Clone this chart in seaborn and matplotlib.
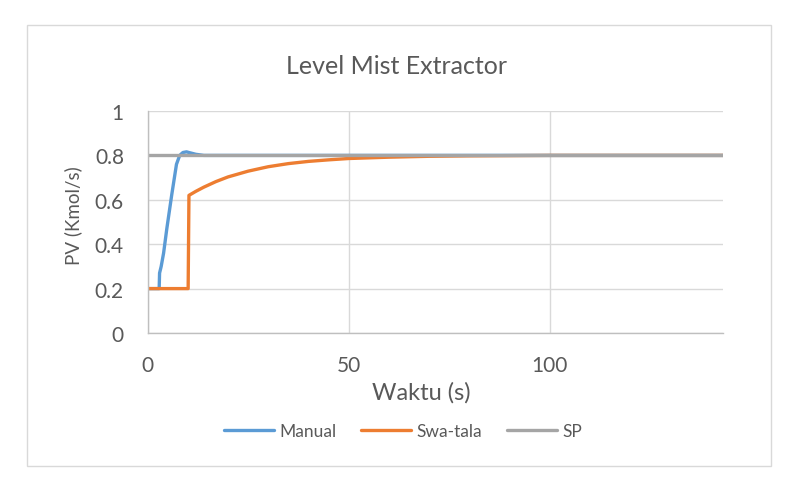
import matplotlib
matplotlib.use("Agg")
import matplotlib.pyplot as plt
from matplotlib.patches import Rectangle
import seaborn as sns
import pandas as pd

# values
manual_t = [0, 2.9, 3.0, 3.4, 4.0, 4.8, 6.0, 7.2, 8.0, 8.8, 9.7, 10.5, 12, 14, 16, 143]
manual_v = [0.2, 0.2, 0.27, 0.30, 0.36, 0.47, 0.62, 0.76, 0.80, 0.813, 0.816, 0.812, 0.805, 0.80, 0.80, 0.80]

swatala_t = [0, 10.1, 10.3, 12, 14, 17, 20, 25, 30, 35, 40, 45, 50, 55, 60, 70, 80, 90, 100, 120, 143]
swatala_v = [0.2, 0.2, 0.62, 0.638, 0.657, 0.682, 0.703, 0.729, 0.749, 0.763, 0.773, 0.780, 0.786,
             0.789, 0.792, 0.796, 0.798, 0.799, 0.8, 0.8, 0.8]

sp_t = [0, 143]
sp_v = [0.8, 0.8]

series_names = ["Manual", "Swa-tala", "SP"]
colors = ["#5B9BD5", "#ED7D31", "#A5A5A5"]
x_ticks = [0, 50, 100]
y_ticks = [0, 0.2, 0.4, 0.6, 0.8, 1]
y_tick_labels = ["0", "0.2", "0.4", "0.6", "0.8", "1"]
text_color = "#595959"

sns.set_theme(style="white")
plt.rcParams["font.family"] = ["Lato", "DejaVu Sans"]

fig = plt.figure(figsize=(7.88, 4.89), dpi=100)
fig.patch.set_facecolor("white")

# outer chart frame like the Excel chart area
fig.patches.append(Rectangle((27 / 788, 1 - 467 / 489), 744 / 788, 441 / 489,
                             transform=fig.transFigure, fill=False,
                             edgecolor="#D9D9D9", linewidth=1.0))

ax = fig.add_axes([147.5 / 788, 1 - 334 / 489, (723 - 147.5) / 788, (334 - 112) / 489])

frames = [
    pd.DataFrame({"t": manual_t, "v": manual_v}),
    pd.DataFrame({"t": swatala_t, "v": swatala_v}),
    pd.DataFrame({"t": sp_t, "v": sp_v}),
]
for df, name, c in zip(frames, series_names, colors):
    sns.lineplot(data=df, x="t", y="v", ax=ax, color=c, linewidth=2.4,
                 label=name, estimator=None, sort=False)

ax.set_xlim(0, 143)
ax.set_ylim(0, 1)
ax.set_xticks(x_ticks)
ax.set_yticks(y_ticks)
ax.set_yticklabels(y_tick_labels)
ax.grid(True, color="#D9D9D9", linewidth=1.0)
ax.set_axisbelow(True)
for s in ["top", "right"]:
    ax.spines[s].set_visible(False)
for s in ["left", "bottom"]:
    ax.spines[s].set_color("#BFBFBF")
    ax.spines[s].set_linewidth(1.0)
ax.tick_params(axis="both", length=0, labelsize=15, colors=text_color)
ax.tick_params(axis="y", pad=17)
ax.tick_params(axis="x", pad=16)
ax.set_xlabel("")
ax.set_ylabel("")

fig.text(397 / 788, 1 - 66 / 489, "Level Mist Extractor", ha="center", va="center",
         fontsize=18, color=text_color)
fig.text(421 / 788, 1 - 393 / 489, "Waktu (s)", ha="center", va="center",
         fontsize=17, color=text_color)
fig.text(73 / 788, 1 - 216 / 489, "PV (Kmol/s)", ha="center", va="center",
         rotation=90, fontsize=13.5, color=text_color)

handles, labels = ax.get_legend_handles_labels()
ax.legend(handles, labels, loc="center", bbox_to_anchor=(403 / 788, 1 - 432 / 489),
          bbox_transform=fig.transFigure, ncol=3, frameon=False, fontsize=12.5,
          handlelength=2.9, handletextpad=0.3, columnspacing=1.4,
          labelcolor=text_color)

fig.savefig("out.png", dpi=100, facecolor="white")
